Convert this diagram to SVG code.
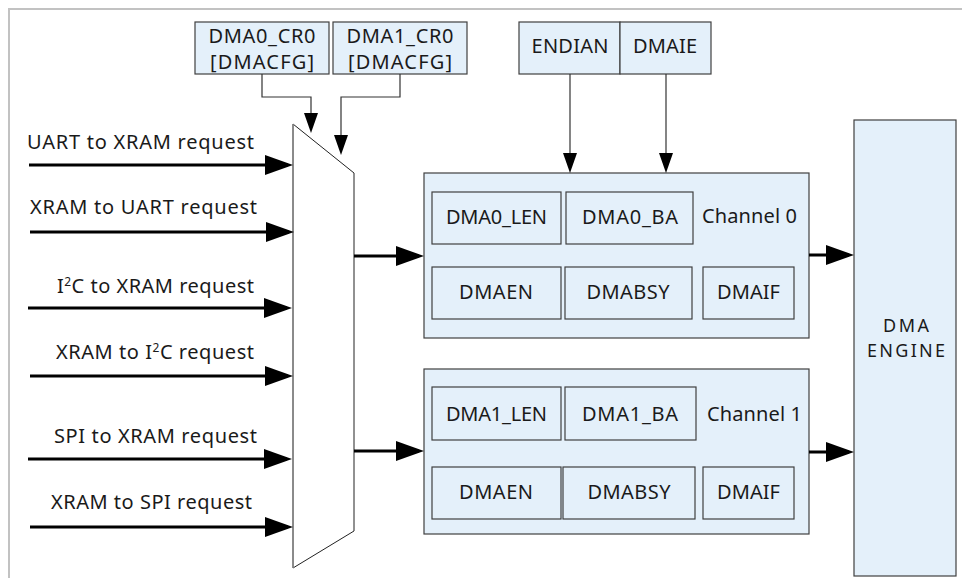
<svg xmlns="http://www.w3.org/2000/svg" width="962" height="578" viewBox="0 0 962 578">
<style>
text{font-family:"Noto Sans","DejaVu Sans","Liberation Sans",sans-serif;font-size:20px;fill:#1a1a1a}
.c{text-anchor:middle}
.box{fill:#e4f0fa;stroke:#404040;stroke-width:1.2}
.thick{fill:none;stroke:#000;stroke-width:3.2}
.thin{fill:none;stroke:#333;stroke-width:1.2}
.sup{font-size:12px}
.eng{font-size:18px}
</style>
<defs>
<marker id="ah" markerUnits="userSpaceOnUse" markerWidth="28" markerHeight="20" refX="23" refY="10" orient="auto" viewBox="0 0 28 20">
<path d="M0,0 L28,10 L0,20 z" fill="#000"/>
</marker>
<marker id="at" markerUnits="userSpaceOnUse" markerWidth="20" markerHeight="14" refX="17" refY="7" orient="auto" viewBox="0 0 20 14">
<path d="M0,0 L20,7 L0,14 z" fill="#000"/>
</marker>
</defs>
<rect x="0" y="0" width="962" height="578" fill="#fff"/>
<rect x="9" y="9" width="1000" height="620" fill="none" stroke="#c2c2c2" stroke-width="2"/>

<g id="dma0_cr0">
<rect class="box" x="195" y="22" width="134" height="52"/>
<text class="c"><tspan x="262" y="43" textLength="107">DMA0_CR0</tspan><tspan x="262" y="69" textLength="104">[DMACFG]</tspan></text>
</g>
<g id="dma1_cr0">
<rect class="box" x="333" y="22" width="134" height="52"/>
<text class="c"><tspan x="400" y="43" textLength="107">DMA1_CR0</tspan><tspan x="400" y="69" textLength="104">[DMACFG]</tspan></text>
</g>
<g id="endian">
<rect class="box" x="519" y="22" width="101" height="52"/>
<text class="c" x="570" y="53" textLength="77">ENDIAN</text>
</g>
<g id="dmaie">
<rect class="box" x="620" y="22" width="91" height="52"/>
<text class="c" x="665" y="53" textLength="64">DMAIE</text>
</g>

<g id="mux">
<polygon points="293,124 354,173 354,531 293,568" fill="#fff" stroke="#222" stroke-width="1"/>
<line x1="293" y1="124" x2="293" y2="568" stroke="#8a8a8a" stroke-width="1.6"/>
</g>

<g id="labels">
<text x="27" y="149" textLength="227">UART to XRAM request</text>
<text x="30" y="214" textLength="227">XRAM to UART request</text>
<text x="57" y="293" textLength="197">I<tspan class="sup" dy="-7">2</tspan><tspan dy="7">C to XRAM request</tspan></text>
<text x="56" y="359" textLength="198">XRAM to I<tspan class="sup" dy="-7">2</tspan><tspan dy="7">C request</tspan></text>
<text x="54" y="443" textLength="203">SPI to XRAM request</text>
<text x="51" y="509" textLength="201">XRAM to SPI request</text>
</g>

<g id="channel0">
<rect class="box" x="424" y="173" width="385" height="165"/>
<rect class="box" x="432" y="192" width="129" height="52"/>
<text class="c" x="496.5" y="224" textLength="101">DMA0_LEN</text>
<rect class="box" x="566" y="192" width="127" height="52"/>
<text class="c" x="630" y="224" textLength="96">DMA0_BA</text>
<text x="702" y="223" textLength="95">Channel 0</text>
<rect class="box" x="432" y="267" width="129" height="52"/>
<text class="c" x="496" y="299" textLength="74">DMAEN</text>
<rect class="box" x="565" y="267" width="127" height="52"/>
<text class="c" x="628" y="299" textLength="83">DMABSY</text>
<rect class="box" x="703" y="267" width="91" height="52"/>
<text class="c" x="748.5" y="299" textLength="63">DMAIF</text>
</g>

<g id="channel1">
<rect class="box" x="424" y="369" width="385" height="165"/>
<rect class="box" x="432" y="387" width="129" height="53"/>
<text class="c" x="496.5" y="421" textLength="101">DMA1_LEN</text>
<rect class="box" x="565" y="387" width="131" height="53"/>
<text class="c" x="630" y="421" textLength="96">DMA1_BA</text>
<text x="707" y="421" textLength="95">Channel 1</text>
<rect class="box" x="432" y="467" width="129" height="52"/>
<text class="c" x="496" y="499" textLength="74">DMAEN</text>
<rect class="box" x="563" y="467" width="132" height="52"/>
<text class="c" x="629" y="499" textLength="83">DMABSY</text>
<rect class="box" x="703" y="467" width="91" height="52"/>
<text class="c" x="748.5" y="499" textLength="63">DMAIF</text>
</g>

<g id="dma_engine">
<rect class="box" x="854" y="120" width="102" height="456"/>
<text class="c eng"><tspan x="906" y="332" textLength="46">DMA</tspan><tspan x="906" y="357" textLength="78">ENGINE</tspan></text>
</g>

<g id="connectors">
<path class="thick" d="M29,165 H288" marker-end="url(#ah)"/>
<path class="thick" d="M30,232 H289" marker-end="url(#ah)"/>
<path class="thick" d="M28,308 H287" marker-end="url(#ah)"/>
<path class="thick" d="M30,376 H288" marker-end="url(#ah)"/>
<path class="thick" d="M28,459 H287" marker-end="url(#ah)"/>
<path class="thick" d="M30,527 H288" marker-end="url(#ah)"/>
<path class="thick" d="M354,256 H419" marker-end="url(#ah)"/>
<path class="thick" d="M354,451 H419" marker-end="url(#ah)"/>
<path class="thick" d="M809,255 H849" marker-end="url(#ah)"/>
<path class="thick" d="M809,452 H849" marker-end="url(#ah)"/>
<path class="thin" d="M262,74 V97 H311 V130" marker-end="url(#at)"/>
<path class="thin" d="M400,74 V97 H341 V152" marker-end="url(#at)"/>
<path class="thin" d="M570,74 V170" marker-end="url(#at)"/>
<path class="thin" d="M666,74 V170" marker-end="url(#at)"/>
</g>
</svg>
